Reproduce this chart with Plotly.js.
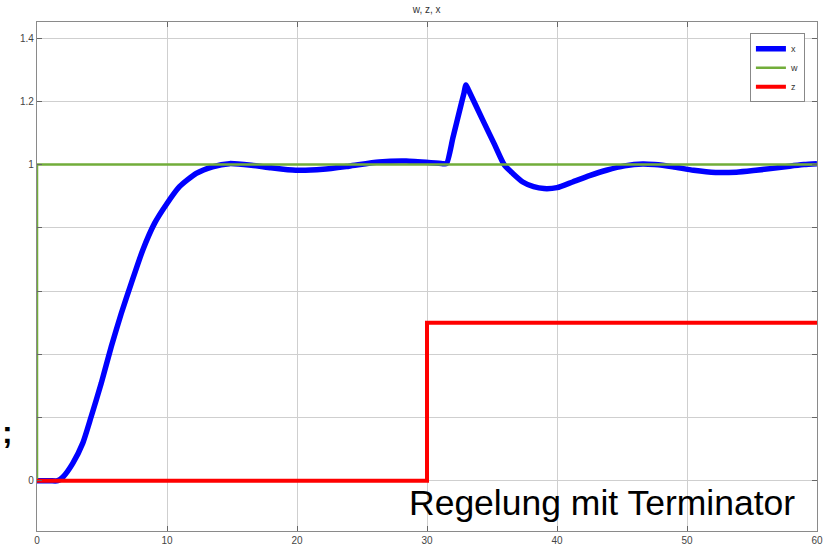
<!DOCTYPE html>
<html>
<head>
<meta charset="utf-8">
<script src="https://cdn.plot.ly/plotly-3.0.1.min.js"></script>
<style>html,body{margin:0;padding:0;background:#fff;}#chart{width:827px;height:548px;}</style>
</head>
<body>
<div id="chart"></div>
<script>
// Controlled variable x (blue)
const tX = [0, 1.0, 1.6, 2.0, 2.75, 3.52, 4.17, 4.94, 5.71, 6.48, 7.25, 8.14, 9.04, 10.0, 10.96, 12.25, 13.5, 14.8, 16.5, 18, 19.9, 22, 24, 26.3, 28.4, 31.2, 31.5, 32.0, 32.6, 32.85, 33.0, 33.2, 34.3, 35.2, 35.96, 36.6, 37.37, 38.2, 39.0, 40.0, 41.2, 42.5, 43.8, 45.2, 46.6, 47.5, 48.9, 50.5, 52.2, 53.8, 55.3, 56.6, 57.9, 59.0, 60];
const xVals = [0, 0, 0, 0.012, 0.055, 0.119, 0.203, 0.308, 0.424, 0.529, 0.624, 0.730, 0.814, 0.877, 0.930, 0.972, 0.993, 1.003, 0.998, 0.99, 0.982, 0.985, 0.995, 1.008, 1.011, 1.003, 1.003, 1.086, 1.186, 1.227, 1.252, 1.235, 1.14, 1.063, 0.998, 0.972, 0.945, 0.93, 0.924, 0.927, 0.945, 0.965, 0.982, 0.996, 1.002, 1.0, 0.993, 0.982, 0.975, 0.976, 0.982, 0.988, 0.995, 1.0, 1.003];
// Setpoint w (green)
const tW = [0, 0, 60];
const wVals = [0, 1, 1];
// Disturbance z (red)
const tZ = [0, 30, 30, 60];
const zVals = [0, 0, 0.5, 0.5];
// Axis ticks
const xTicks = [0, 10, 20, 30, 40, 50, 60];
const yTicks = [0, 0.2, 0.4, 0.6, 0.8, 1, 1.2, 1.4];
const yTickText = ['0', '', '', '', '', '1', '1.2', '1.4'];

const traces = [
  {x: tX, y: xVals, name: 'x', mode: 'lines', line: {color: '#0000ff', width: 5.5, shape: 'spline', smoothing: 0.6}},
  {x: tW, y: wVals, name: 'w', mode: 'lines', line: {color: '#72ad3a', width: 2.5}},
  {x: tZ, y: zVals, name: 'z', mode: 'lines', line: {color: '#ff0000', width: 4}}
];

const axisCommon = {
  showline: true, linecolor: '#8a8a8a', linewidth: 1.2, mirror: 'allticks',
  ticks: 'inside', ticklen: 5, tickcolor: '#666', tickwidth: 1,
  showgrid: true, gridcolor: '#cfcfcf', gridwidth: 1, zeroline: false,
  tickfont: {family: 'Liberation Sans, Arial, sans-serif', size: 10, color: '#444'}
};

const layout = {
  width: 827, height: 548,
  margin: {l: 37, r: 10, t: 22, b: 17},
  paper_bgcolor: '#ffffff', plot_bgcolor: '#ffffff',
  title: {text: 'w, z, x', font: {family: 'Liberation Sans, Arial, sans-serif', size: 10, color: '#333'}, x: 0.516, xanchor: 'center', y: 0.982, yanchor: 'middle'},
  xaxis: Object.assign({}, axisCommon, {range: [0, 60], tickvals: xTicks, ticktext: xTicks.map(String)}),
  yaxis: Object.assign({}, axisCommon, {range: [-0.159, 1.451], tickvals: yTicks, ticktext: yTickText}),
  showlegend: true,
  legend: {x: 0.914, y: 0.978, xanchor: 'left', yanchor: 'top', bgcolor: '#ffffff', bordercolor: '#888', borderwidth: 1,
    font: {family: 'Liberation Sans, Arial, sans-serif', size: 9, color: '#333'}, tracegroupgap: 0, itemwidth: 30},
  annotations: [
    {text: 'Regelung mit Terminator', xref: 'paper', yref: 'paper', x: 0.974, y: 0.055, xanchor: 'right', yanchor: 'middle', showarrow: false,
      font: {family: 'Liberation Sans, Arial, sans-serif', size: 35.5, color: '#000'}},
    {text: '<b>;</b>', xref: 'paper', yref: 'paper', x: -0.0372, y: 0.1945, xanchor: 'center', yanchor: 'middle', showarrow: false,
      font: {family: 'Liberation Sans, Arial, sans-serif', size: 32, color: '#000'}}
  ]
};

Plotly.newPlot('chart', traces, layout, {staticPlot: true, displayModeBar: false});
</script>
</body>
</html>
